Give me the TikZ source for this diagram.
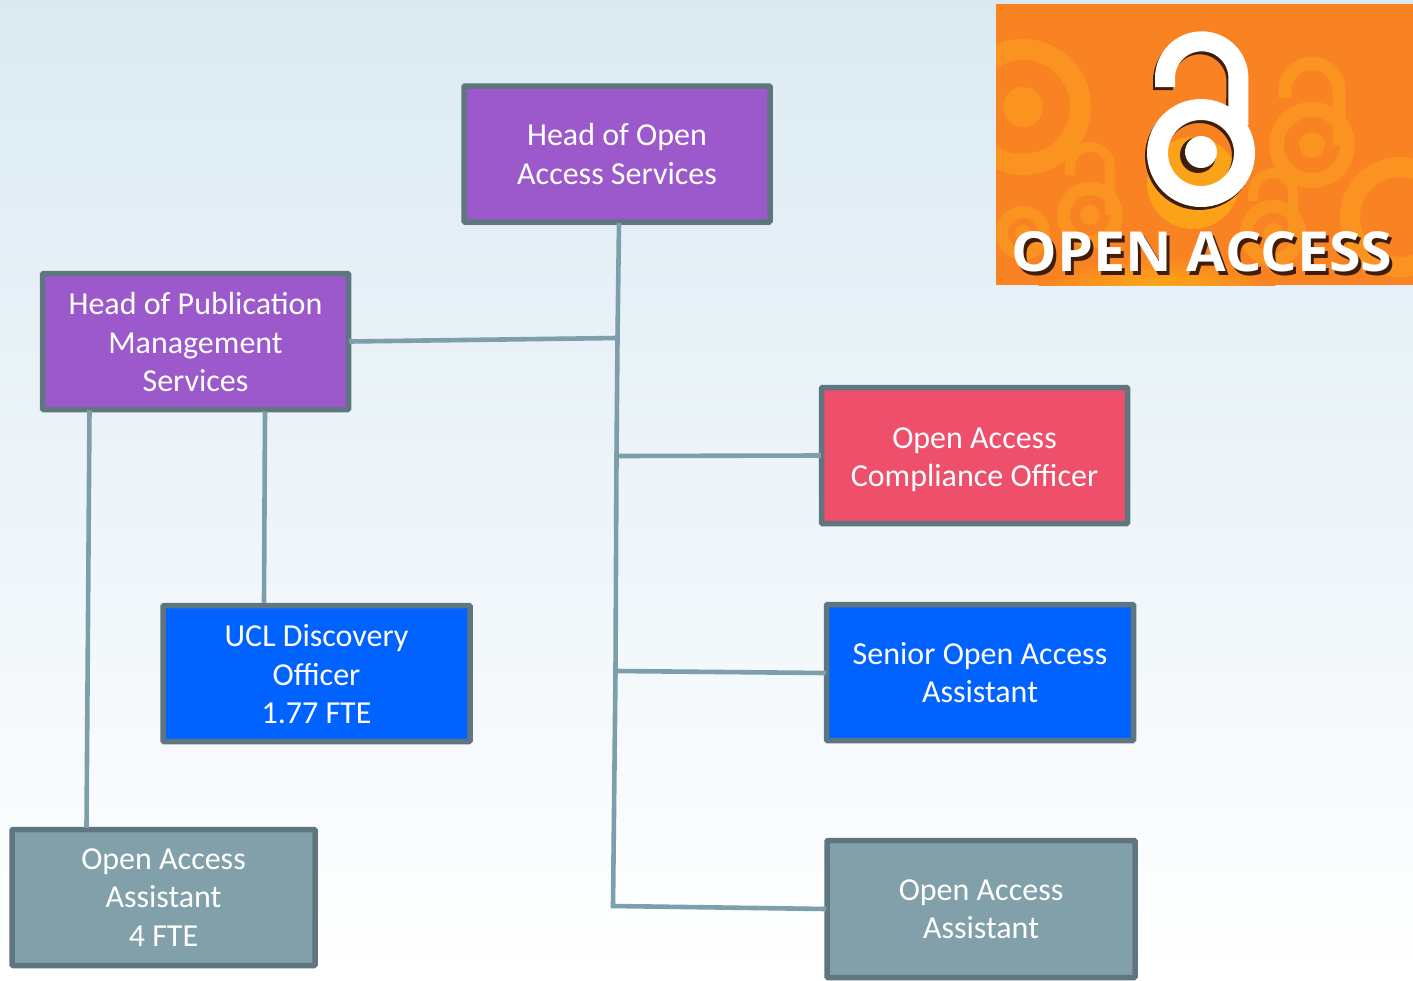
\documentclass[tikz,border=0pt]{standalone}
\usepackage{fontspec}
\usepackage{graphicx}
\setmainfont{Carlito}
\newfontfamily\logofont{Open Sans}
\definecolor{bgtop}{HTML}{DBEAF2}
\definecolor{edgecol}{HTML}{5F7680}
\definecolor{linkcol}{HTML}{7C9FAB}
\definecolor{purplebox}{HTML}{9B59CB}
\definecolor{redbox}{HTML}{EE506B}
\definecolor{bluebox}{HTML}{0063FF}
\definecolor{greybox}{HTML}{81A0AA}
\definecolor{logoorange}{HTML}{F98222}
\definecolor{logoghost}{HTML}{FB9320}
\definecolor{logoyellow}{HTML}{FDB813}
\definecolor{logoshadow}{HTML}{3E1E0A}
\tikzset{
  orgbox/.style={draw=edgecol,line width=5.5pt,rounded corners=1pt,text=white,align=center,
    font=\fontsize{32}{38.5}\selectfont,inner sep=0pt,minimum height=136pt},
  link/.style={draw=linkcol,line width=4.6pt,line join=miter},
}
\newcommand{\ghostring}[5]{% x y outer inner dot
  \fill[logoghost,even odd rule] (#1,#2) circle (#3pt) (#1,#2) circle (#4pt);
  \fill[logoghost] (#1,#2) circle (#5pt);
}
\newcommand{\ghostshackle}[5]{% x y-of-ring width y-of-arc radius
  \draw[logoghost,line width=#3pt] ([xshift=-#5pt]#1,#4+8) -- ([xshift=-#5pt]#1,#4) arc[start angle=180,end angle=0,radius=#5pt] -- ([xshift=#5pt]#1,#2);
}
\begin{document}
\begin{tikzpicture}[x=1pt,y=-1pt]
\useasboundingbox (0,0) rectangle (1413,980);
\shade[top color=bgtop,bottom color=white] (0,0) rectangle (1413,980);

% logo
\begin{scope}
  \clip (996,4) rectangle (1413,285);
  \fill[logoorange] (996,4) rectangle (1413,285);
  \shade[inner color=logoyellow,outer color=logoorange] (1157,300) ellipse (125pt and 45pt);
  \fill[logoyellow!60!logoorange] (1193,183) circle (46pt);
  \ghostring{1023}{107}{68}{47}{20}
  \ghostring{1312}{145}{43}{28}{13}
  \ghostshackle{1312}{145}{13}{90}{27}
  \ghostring{1090}{215}{33}{20}{10}
  \ghostshackle{1090}{215}{10}{167}{20}
  \ghostring{1023}{233}{27}{15}{8}
  \ghostring{1273}{233}{33}{20}{10}
  \ghostshackle{1273}{233}{10}{193}{20}
  \ghostring{1400}{217}{60}{40}{0}
  % main lock shadow
  \begin{scope}[xshift=-2pt,yshift=-3pt]
    \draw[logoshadow,line width=20pt] (1165,87) -- (1165,78) arc[start angle=180,end angle=0,radius=36.7pt] -- (1238,120);
    \fill[logoshadow,even odd rule] (1201,153) circle (54pt) (1201,153) circle (33pt);
  \end{scope}
  \fill[logoshadow] (1198,155) circle (18pt);
  % main lock
  \draw[white,line width=20pt] (1165,87) -- (1165,78) arc[start angle=180,end angle=0,radius=36.7pt] -- (1238.4,125);
  \fill[white,even odd rule] (1201,153) circle (54pt) (1201,153) circle (33pt);
  \fill[white] (1201,152) circle (16pt);
  \node[text=logoshadow,inner sep=0pt] (logoshade) at (1205,255.5) {\resizebox{381pt}{40pt}{\logofont\bfseries OPEN ACCESS}};
  \node[text=white,inner sep=0pt] (logotext) at (1202,252) {\resizebox{381pt}{40pt}{\logofont\bfseries OPEN ACCESS}};
\end{scope}

% boxes
\node[orgbox,fill=purplebox,minimum width=306pt] (hoa) at (617,154) {Head of Open\\Access Services};
\node[orgbox,fill=purplebox,minimum width=306pt] (hpm) at (195.5,341.5) {\rule{0pt}{24pt}Head of Publication\\Management\\Services};
\node[orgbox,fill=redbox,minimum width=306pt] (comp) at (974.5,455.5) {\rule{0pt}{29pt}Open Access\\Compliance Officer};
\node[orgbox,fill=bluebox,minimum width=307pt] (ucl) at (316.5,673.5) {\rule{0pt}{24pt}UCL Discovery\\Officer\\1.77 FTE};
\node[orgbox,fill=bluebox,minimum width=307pt] (senior) at (980,672.5) {Senior Open Access\\Assistant};
\node[orgbox,fill=greybox,minimum width=303pt] (oaleft) at (163.5,897.5) {Open Access\\Assistant\\4 FTE};
\node[orgbox,fill=greybox,minimum width=308pt,minimum height=137pt] (oaright) at (981,909) {Open Access\\Assistant};

% connector junctions
\coordinate (j1) at (617.5,338);
\coordinate (j2) at (616.5,456);
\coordinate (j3) at (615.5,671);
\coordinate (j4) at (613,906);

\draw[link] ([xshift=2pt,yshift=2pt]hoa.south) -- (j1) -- (j2) -- (j3) -- (j4) -- ([xshift=2pt]oaright.west);
\draw[link] ([xshift=-2pt]hpm.east) -- (j1);
\draw[link] (j2) -- ([xshift=2pt]comp.west);
\draw[link] (j3) -- ([xshift=2pt,yshift=-0.5pt]senior.west);
\draw[link] ([xshift=-106pt,yshift=2pt]hpm.south) -- ([xshift=-77pt,yshift=-1pt]oaleft.north);
\draw[link] ([xshift=69.5pt,yshift=1pt]hpm.south) -- ([xshift=-52.5pt]ucl.north);
\end{tikzpicture}
\end{document}
